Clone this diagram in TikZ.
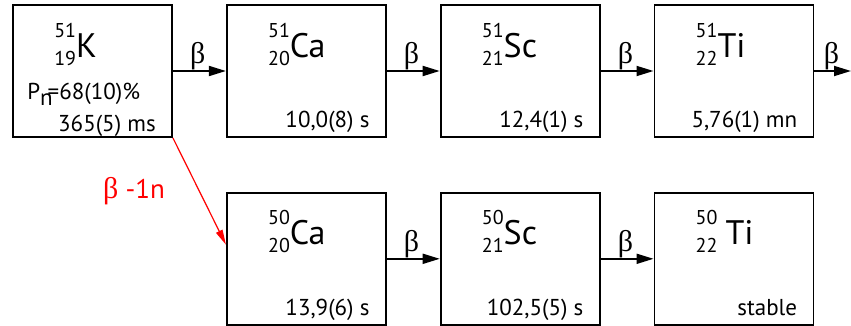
\documentclass[tikz,border=0pt]{standalone}
\usepackage{fontspec}
\setmainfont{PT Sans}
\newfontfamily\greekfont{Liberation Serif}
\usetikzlibrary{arrows.meta,positioning,calc}

% nuclide symbol: mass number over charge number, then element
\newcommand\nuc[3]{%
  {\fontsize{20}{20}\selectfont\rlap{\raisebox{20pt}{#1}}\raisebox{-8pt}{#2}}%
  {\fontsize{34}{34}\selectfont#3}}

\begin{document}
\begin{tikzpicture}[x=1pt,y=1pt,font=\fontsize{23}{23}\selectfont,
  box/.style={draw,line width=1.8pt,minimum width=159pt,minimum height=132pt,inner sep=0pt},
  nuclide/.style={anchor=base west,inner sep=0pt},
  life/.style={anchor=base east,inner sep=0pt},
  decay/.style={line width=1.8pt,-{Triangle[length=17pt,width=10pt]}},
  beta/.style={above,inner sep=0pt,pos=0.47,font=\fontsize{30}{30}\greekfont}]
\useasboundingbox (0,0) rectangle (851,325);
% A = 51 chain
\node[box] (k51) at (92.5,254) {};
\node[box,right=53pt of k51] (ca51) {};
\node[box,right=53pt of ca51] (sc51) {};
\node[box,right=53pt of sc51] (ti51) {};
% A = 50 chain
\node[box,below=54pt of ca51] (ca50) {};
\node[box,right=53pt of ca50] (sc50) {};
\node[box,right=53pt of sc50] (ti50) {};

\foreach \n/\a/\z/\el in {k51/51/19/K, ca51/51/20/Ca, sc51/51/21/Sc, ti51/51/22/Ti,
    ca50/50/20/Ca, sc50/50/21/Sc, ti50/50/22/{\kern8pt Ti}}
  \node[nuclide] (\n-name) at ($(\n.north west)+(42,-53)$) {\nuc{\a}{\z}{\el}};

\foreach \n/\t in {ca51/{10,0(8) s}, sc51/{12,4(1) s}, ti51/{5,76(1) mn},
    ca50/{13,9(6) s}, sc50/{102,5(5) s}, ti50/{stable}}
  \node[life] (\n-life) at ($(\n.south east)+(-17,10)$) {\t};
\node[life] (k51-life) at ($(k51.south east)+(-17,6)$) {365(5) ms};
\node[anchor=base west,inner sep=0pt] (k51-pn) at ($(k51.north west)+(15,-95)$)
  {P\raisebox{-6pt}{n}\kern-5pt=68(10)\%};

% beta decays
\coordinate (exit) at (851,254);
\draw[decay] (k51) -- (ca51) node[beta] (b1) {β};
\draw[decay] (ca51) -- (sc51) node[beta] (b2) {β};
\draw[decay] (sc51) -- (ti51) node[beta] (b3) {β};
\draw[decay] (ti51) -- (exit) node[beta] (b4) {β};
\draw[decay] (ca50) -- (sc50) node[beta] (b5) {β};
\draw[decay] (sc50) -- (ti50) node[beta] (b6) {β};
% delayed neutron branch
\draw[red,line width=1.2pt,-{Triangle[length=15pt,width=7pt]}] (k51.south east) -- (ca50.170)
  node[midway,left=34pt,inner sep=0pt,text=red,font=\fontsize{27}{27}\selectfont] (bn)
  {{\greekfont\fontsize{30}{30}\selectfont β} -1n};
\end{tikzpicture}
\end{document}
